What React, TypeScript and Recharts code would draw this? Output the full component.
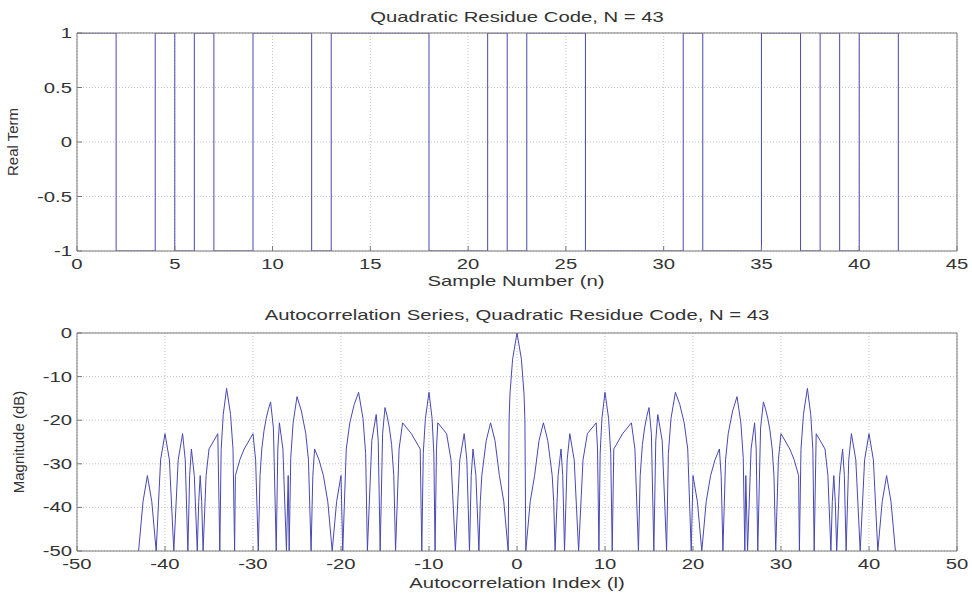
import { LineChart, Line, XAxis, YAxis, CartesianGrid } from "recharts";

// quadratic residue code, one value per sample n = 0..42
const codeValues = [
  1, 1, -1, -1, 1, -1, 1, -1, -1, 1,
  1, 1, -1, 1, 1, 1, 1, 1, -1, -1,
  -1, 1, -1, 1, 1, 1, -1, -1, -1, -1,
  -1, 1, -1, -1, -1, 1, 1, -1, 1, -1,
  1, 1, -1,
];

const codeTicksX = [0, 5, 10, 15, 20, 25, 30, 35, 40, 45];
const codeTicksY = [-1, -0.5, 0, 0.5, 1];
const corrTicksX = [-50, -40, -30, -20, -10, 0, 10, 20, 30, 40, 50];
const corrTicksY = [-50, -40, -30, -20, -10, 0];

// autocorrelation magnitude, [lag, dB] (nulls sit on the -50 floor)
const corrNeg: [number, number][] = [
  [-43, -50], [-42.5, -38.7], [-42, -32.7], [-41.5, -38.7], [-41, -50],
  [-40.5, -29.1], [-40, -23.1], [-39.5, -29.1], [-39, -50],
  [-38.5, -29.1], [-38, -23.1], [-37.7, -29.1], [-37.4, -50], [-37.2, -32.7], [-37, -26.6],
  [-36.67, -32.7], [-36.33, -50], [-36.17, -38.7], [-36, -32.7],
  [-35.83, -38.7], [-35.67, -50], [-35.33, -32.7], [-35, -26.6],
  [-34, -23.1], [-33.77, -50], [-33.62, -26.7], [-33.38, -18.7], [-33, -12.7],
  [-32.55, -18.7], [-32.27, -26.7], [-32.09, -50], [-32, -32.7],
  [-31.5, -29.1], [-31, -26.6], [-30, -23.1],
  [-29.7, -29.1], [-29.4, -50], [-29.2, -32.7], [-29, -26.6],
  [-28.75, -22.4], [-28.5, -19.6], [-28.25, -17.5], [-28, -15.8],
  [-27.68, -21.8], [-27.36, -50], [-27.18, -26.6], [-27, -20.6],
  [-26.6, -26.6], [-26.2, -50], [-26, -32.7],
  [-25.89, -50], [-25.71, -28.6], [-25.44, -20.6], [-25, -14.6],
  [-24.5, -17.9], [-24, -23.1],
  [-23.7, -29.1], [-23.4, -50], [-23.2, -32.7], [-23, -26.6],
  [-22.5, -29.1], [-22, -32.7], [-21.5, -38.7], [-21, -50],
  [-20.5, -38.7], [-20, -32.7], [-19.8, -50], [-19.4, -26.6], [-19, -20.6],
  [-18.5, -16.4], [-18, -13.6], [-17.5, -19.6], [-17.2, -27.6], [-17, -50],
  [-16.5, -24.7], [-16, -18.7], [-15.77, -24.7], [-15.55, -50], [-15.27, -23.1], [-15, -17.1],
  [-14.75, -19.1], [-14.5, -21.8], [-14.25, -25.6], [-14, -32.7],
  [-13.8, -50], [-13.4, -26.6], [-13, -20.6], [-12, -23.1], [-11, -26.6],
  [-10.82, -50], [-10.65, -27.6], [-10.41, -19.6], [-10, -13.6],
  [-9.65, -19.6], [-9.45, -27.6], [-9.31, -50], [-9.15, -26.6], [-9, -20.6],
  [-8, -23.1], [-7.5, -29.1], [-7, -50], [-6.5, -29.1], [-6, -23.1],
  [-5.7, -29.1], [-5.4, -50], [-5.2, -32.7], [-5, -26.6],
  [-4.67, -32.7], [-4.33, -50], [-4.17, -38.7], [-4, -32.7],
  [-3.5, -24.7], [-3, -20.6], [-2.5, -24.7], [-2, -32.7],
  [-1.5, -38.7], [-1, -50], [-0.9, -20], [-0.8, -14], [-0.5, -6],
];

const corrPos: [number, number][] = [
  [0, 0], [0.5, -6], [0.8, -14], [0.9, -20], [1, -50],
  [1.5, -38.7], [2, -32.7], [2.5, -24.7], [3, -20.6], [3.5, -24.7], [4, -32.7],
  [4.17, -38.7], [4.33, -50], [4.67, -32.7], [5, -26.6],
  [5.2, -32.7], [5.4, -50], [5.7, -29.1], [6, -23.1],
  [6.5, -29.1], [7, -50], [7.5, -29.1], [8, -23.1], [9, -20.6],
  [9.15, -26.6], [9.31, -50], [9.45, -27.6], [9.65, -19.6], [10, -13.6],
  [10.41, -19.6], [10.65, -27.6], [10.82, -50], [11, -26.6],
  [12, -23.1], [13, -20.6], [13.4, -26.6], [13.8, -50], [14, -32.7],
  [14.25, -25.6], [14.5, -21.8], [14.75, -19.1], [15, -17.1],
  [15.27, -23.1], [15.55, -50], [15.77, -24.7], [16, -18.7],
  [16.5, -24.7], [17, -50], [17.2, -27.6], [17.5, -19.6], [18, -13.6],
  [18.5, -16.4], [19, -20.6], [19.4, -26.6], [19.8, -50], [20, -32.7],
  [20.5, -38.7], [21, -50], [21.5, -38.7], [22, -32.7],
  [22.5, -29.1], [23, -26.6], [23.2, -32.7], [23.4, -50], [23.7, -29.1], [24, -23.1],
  [24.5, -17.9], [25, -14.6], [25.44, -20.6], [25.71, -28.6], [25.89, -50], [26, -32.7],
  [26.2, -50], [26.6, -26.6], [27, -20.6],
  [27.18, -26.6], [27.36, -50], [27.68, -21.8], [28, -15.8],
  [28.25, -17.5], [28.5, -19.6], [28.75, -22.4], [29, -26.6],
  [29.2, -32.7], [29.4, -50], [29.7, -29.1], [30, -23.1],
  [31, -26.6], [31.5, -29.1], [32, -32.7],
  [32.09, -50], [32.27, -26.7], [32.55, -18.7], [33, -12.7],
  [33.38, -18.7], [33.62, -26.7], [33.77, -50], [34, -23.1], [35, -26.6],
  [35.33, -32.7], [35.67, -50], [35.83, -38.7], [36, -32.7],
  [36.17, -38.7], [36.33, -50], [36.67, -32.7], [37, -26.6],
  [37.2, -32.7], [37.4, -50], [37.7, -29.1], [38, -23.1],
  [38.5, -29.1], [39, -50], [39.5, -29.1], [40, -23.1],
  [40.5, -29.1], [41, -50], [41.5, -38.7], [42, -32.7],
  [42.5, -38.7], [43, -50],
];

const BLUE = "#4848b4";
const AXIS = "#7a7a7a";
const GRID = "#c4c4c4";
const TEXT = "#333";
const FONT = '"Liberation Sans", Arial, Helvetica, sans-serif';
const STRETCH = 1.45;

const codeData = codeValues.map((v, n) => ({ n, v }));
const corrData = [...corrNeg, ...corrPos].map(([lag, db]) => ({ lag, db }));

function XTick({ x, y, payload }: any) {
  return (
    <text transform={`translate(${x},${y + 18}) scale(${STRETCH},1)`} textAnchor="middle" fontSize={14} fontFamily={FONT} fill={TEXT}>
      {payload.value}
    </text>
  );
}

function YTick({ x, y, payload }: any) {
  return (
    <text transform={`translate(${x - 5},${y + 5}) scale(${STRETCH},1)`} textAnchor="end" fontSize={14} fontFamily={FONT} fill={TEXT}>
      {payload.value}
    </text>
  );
}

function Title({ x, y, text }: { x: number; y: number; text: string }) {
  return (
    <text transform={`translate(${x},${y}) scale(${STRETCH},1)`} textAnchor="middle" fontSize={14} fontFamily={FONT} fill={TEXT}>
      {text}
    </text>
  );
}

function SideLabel({ x, y, text }: { x: number; y: number; text: string }) {
  return (
    <text transform={`translate(${x},${y}) rotate(-90)`} textAnchor="middle" dominantBaseline="central" fontSize={15} fontFamily={FONT} fill={TEXT}>
      {text}
    </text>
  );
}

function Panel({ data, xKey, yKey, xDomain, yDomain, xTicks, yTicks, height, bottom, step }: any) {
  // series first so the axis box is painted over the +1/-1 runs
  return (
    <LineChart width={972} height={height} data={data} margin={{ top: 32, right: 14, bottom, left: 17 }}>
      <CartesianGrid stroke={GRID} strokeDasharray="1 2" />
      <Line type={step ? "stepAfter" : "linear"} dataKey={yKey} stroke={BLUE} strokeWidth={1} dot={false} activeDot={false} isAnimationActive={false} />
      <XAxis dataKey={xKey} type="number" domain={xDomain} ticks={xTicks} allowDataOverflow height={30}
        axisLine={{ stroke: AXIS }} tickLine={{ stroke: AXIS }} tickSize={-5} tickMargin={5} tick={XTick} />
      <XAxis xAxisId="top" orientation="top" type="number" domain={xDomain} ticks={xTicks} allowDataOverflow height={1}
        axisLine={{ stroke: AXIS }} tickLine={{ stroke: AXIS }} tickSize={-5} tick={false} />
      <YAxis type="number" domain={yDomain} ticks={yTicks} allowDataOverflow width={60}
        axisLine={{ stroke: AXIS }} tickLine={{ stroke: AXIS }} tickSize={-5} tickMargin={5} tick={YTick} />
      <YAxis yAxisId="right" orientation="right" type="number" domain={yDomain} ticks={yTicks} allowDataOverflow width={1}
        axisLine={{ stroke: AXIS }} tickLine={{ stroke: AXIS }} tickSize={-5} tick={false} />
    </LineChart>
  );
}

export default function App() {
  return (
    <div style={{ position: "absolute", left: 0, top: 0, width: 972, height: 596, background: "#fff" }}>
      <div style={{ position: "absolute", left: 0, top: 0 }}>
        <Panel data={codeData} xKey="n" yKey="v" xDomain={[0, 45]} yDomain={[-1, 1]} xTicks={codeTicksX} yTicks={codeTicksY} height={300} bottom={19} step />
      </div>
      <div style={{ position: "absolute", left: 0, top: 300 }}>
        <Panel data={corrData} xKey="lag" yKey="db" xDomain={[-50, 50]} yDomain={[-50, 0]} xTicks={corrTicksX} yTicks={corrTicksY} height={296} bottom={15} />
      </div>
      <svg width={972} height={596} style={{ position: "absolute", left: 0, top: 0, pointerEvents: "none" }}>
        <Title x={517} y={22} text="Quadratic Residue Code, N = 43" />
        <Title x={516} y={286} text="Sample Number (n)" />
        <Title x={517} y={320} text="Autocorrelation Series, Quadratic Residue Code, N = 43" />
        <Title x={517} y={588} text="Autocorrelation Index (l)" />
        <SideLabel x={12} y={142} text="Real Term" />
        <SideLabel x={18} y={442} text="Magnitude (dB)" />
      </svg>
    </div>
  );
}
